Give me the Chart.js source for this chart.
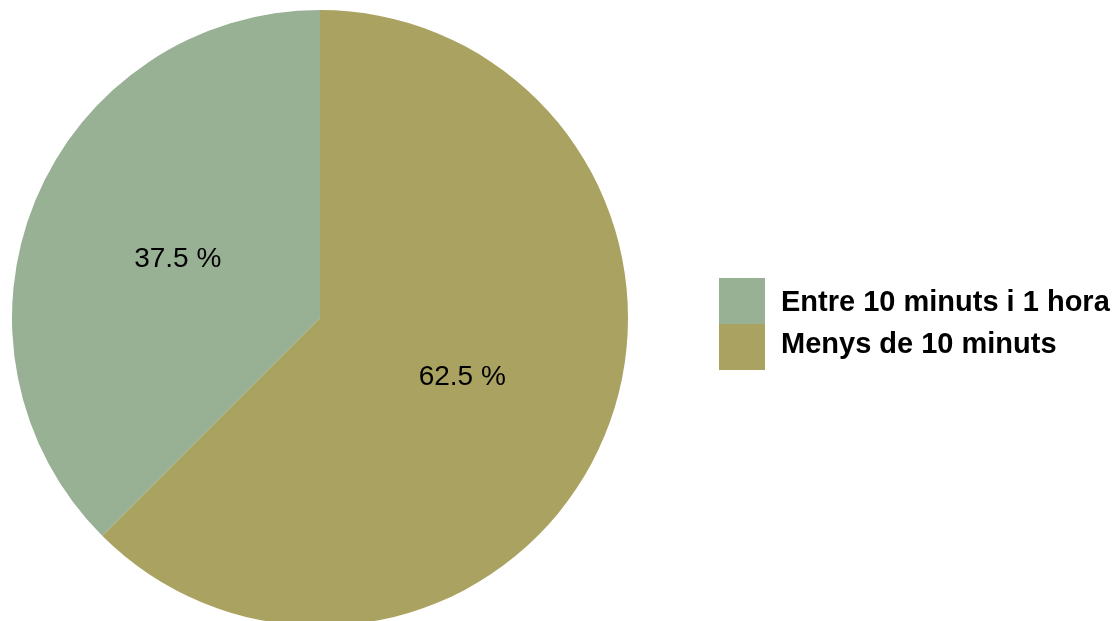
<!DOCTYPE html>
<html>
<head>
<meta charset="utf-8">
<script src="https://cdn.jsdelivr.net/npm/chart.js@4"></script>
<style>
  html, body { margin: 0; padding: 0; background: #fff; overflow: hidden; }
  #wrap { position: relative; width: 1118px; height: 640px; }
</style>
</head>
<body>
<div id="wrap"><canvas id="pieChart"></canvas></div>
<script>
const labels = ['Entre 10 minuts i 1 hora', 'Menys de 10 minuts'];
const values = [37.5, 62.5];
const colors = ['#98B195', '#AAA260'];

// percent labels in the middle of each slice
const sliceLabels = {
    id: 'sliceLabels',
    afterDatasetsDraw(chart) {
        const ctx = chart.ctx;
        const meta = chart.getDatasetMeta(0);
        ctx.save();
        ctx.font = '28px "Liberation Sans", Arial, sans-serif';
        ctx.fillStyle = '#000';
        ctx.textAlign = 'center';
        ctx.textBaseline = 'middle';
        meta.data.forEach((arc, i) => {
            const p = arc.tooltipPosition();
            ctx.fillText(chart.data.datasets[0].data[i].toFixed(1) + ' %', p.x, p.y);
        });
        ctx.restore();
    }
};

// legend on the right, boxes stacked with no gap
const sideLegend = {
    id: 'sideLegend',
    afterDraw(chart) {
        const ctx = chart.ctx;
        const ds = chart.data.datasets[0];
        const x = 719, top = 278, box = 46;
        ctx.save();
        ctx.font = 'bold 29px "Liberation Sans", Arial, sans-serif';
        ctx.textAlign = 'left';
        ctx.textBaseline = 'alphabetic';
        chart.data.labels.forEach((lab, i) => {
            ctx.fillStyle = ds.backgroundColor[i];
            ctx.fillRect(x, top + i * box, box, box);
            ctx.fillStyle = '#000';
            ctx.fillText(lab, 781, 311 + i * 42);
        });
        ctx.restore();
    }
};

new Chart(document.getElementById('pieChart'), {
    type: 'pie',
    data: {
        labels: labels,
        datasets: [{
            data: values,
            backgroundColor: colors,
            borderWidth: 0,
        }],
    },
    options: {
        responsive: true,
        maintainAspectRatio: false,
        animation: false,
        rotation: 225,
        layout: {
            padding: { left: 12, top: 10, right: 490, bottom: 14 }
        },
        plugins: {
            legend: { display: false },
            tooltip: { enabled: false },
        },
    },
    plugins: [sliceLabels, sideLegend]
});
</script>
</body>
</html>
